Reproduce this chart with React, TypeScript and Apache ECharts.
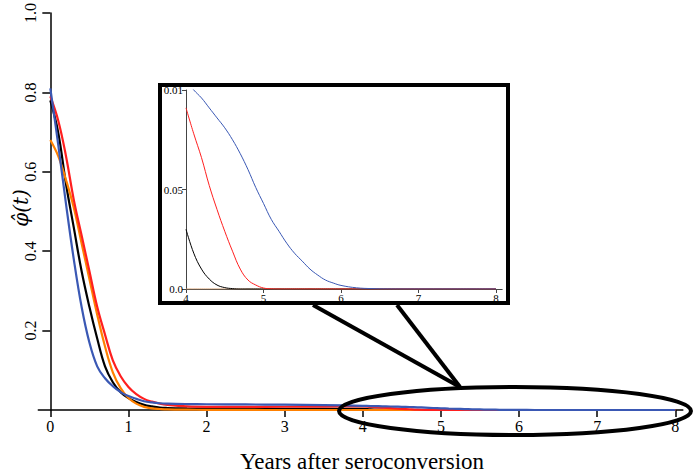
import React, { useEffect, useRef } from "react";
import * as echarts from "echarts";

const years = [
  0, 0.1, 0.2, 0.3, 0.4, 0.5, 0.6, 0.7, 0.8, 0.9, 1.0, 1.1, 1.2, 1.3, 1.4, 1.5,
  1.75, 2, 2.5, 3, 3.5,
  4, 4.1, 4.2, 4.3, 4.4, 4.5, 4.6, 4.7, 4.8, 4.9, 5, 5.1, 5.2, 5.3, 5.4, 5.5, 5.6, 5.7, 5.8, 5.9,
  6, 6.2, 6.4, 6.6, 6.8, 7, 7.5, 8,
];

const blueValues = [
  0.81, 0.67, 0.52, 0.38, 0.26, 0.17, 0.11, 0.08, 0.06, 0.045, 0.035, 0.028, 0.022, 0.019, 0.017, 0.016,
  0.015, 0.0145, 0.014, 0.0135, 0.0125,
  0.0105, 0.01, 0.0096, 0.0091, 0.0086, 0.0081, 0.0075, 0.0068, 0.006, 0.0051, 0.0043, 0.0035, 0.0029, 0.0023, 0.0018, 0.0014, 0.001, 0.0007, 0.00045, 0.0003,
  0.00018, 0.00006, 0.00002, 0.000005, 0, 0, 0, 0,
];

const blackValues = [
  0.78, 0.7, 0.57, 0.46, 0.35, 0.26, 0.18, 0.11, 0.07, 0.045, 0.03, 0.02, 0.013, 0.009, 0.006, 0.005,
  0.004, 0.0035, 0.003, 0.003, 0.003,
  0.003, 0.0018, 0.001, 0.0005, 0.0002, 0.00007, 0.00002, 0, 0, 0, 0, 0, 0, 0, 0, 0, 0, 0, 0, 0,
  0, 0, 0, 0, 0, 0, 0, 0,
];

const orangeValues = [
  0.68, 0.64, 0.58, 0.51, 0.42, 0.33, 0.24, 0.16, 0.095, 0.055, 0.03, 0.016, 0.008, 0.004, 0.0025, 0.0015,
  0.0008, 0.0005, 0.0002, 0, 0,
  0, 0, 0, 0, 0, 0, 0, 0, 0, 0, 0, 0, 0, 0, 0, 0, 0, 0, 0, 0,
  0, 0, 0, 0, 0, 0, 0, 0,
];

const redValues = [
  0.79, 0.73, 0.64, 0.53, 0.44, 0.35, 0.26, 0.19, 0.125, 0.085, 0.058, 0.04, 0.028, 0.021, 0.016, 0.013,
  0.009, 0.008, 0.008, 0.0082, 0.0086,
  0.0091, 0.0078, 0.0066, 0.0052, 0.004, 0.0029, 0.0019, 0.001, 0.00045, 0.0002, 0.00005, 0.00001, 0, 0, 0, 0, 0, 0, 0, 0,
  0, 0, 0, 0, 0, 0, 0, 0,
];

const xTicks = [0, 1, 2, 3, 4, 5, 6, 7, 8];
const yTicks = [0.2, 0.4, 0.6, 0.8, 1.0];
const insetStart = 4;
const insetXTicks = [4, 5, 6, 7, 8];
const insetYTicks = [0, 0.005, 0.01];
const insetYLabels = ["0.0", "0.05", "0.01"];

const xTitle = "Years after seroconversion";
const yTitle = "\u03c6\u0302(t)";

const COLORS = {
  blue: "#3a58b4",
  black: "#000000",
  orange: "#ff8000",
  red: "#ff1f1f",
};

const SERIF = "Liberation Serif, Times New Roman, serif";

function pairs(vals: number[], from = -Infinity) {
  const out: number[][] = [];
  years.forEach((t, i) => {
    if (t >= from) out.push([t, vals[i]]);
  });
  return out;
}

export default function App() {
  const ref = useRef<HTMLDivElement>(null);

  useEffect(() => {
    if (!ref.current) return;
    const chart = echarts.init(ref.current, null, { renderer: "svg" });

    const mainSeries = [
      { name: "black", vals: blackValues, color: COLORS.black },
      { name: "orange", vals: orangeValues, color: COLORS.orange },
      { name: "red", vals: redValues, color: COLORS.red },
      { name: "blue", vals: blueValues, color: COLORS.blue },
    ];

    const series: any[] = [];
    mainSeries.forEach((s) => {
      series.push({
        type: "line",
        name: s.name,
        xAxisIndex: 0,
        yAxisIndex: 0,
        data: pairs(s.vals),
        smooth: 0.4,
        showSymbol: false,
        symbol: "none",
        lineStyle: { color: s.color, width: 2.2 },
        z: 3,
      });
    });
    const insetOrder = [
      { name: "orange", vals: orangeValues, color: "#d29a6a" },
      { name: "black", vals: blackValues, color: COLORS.black },
      { name: "red", vals: redValues, color: COLORS.red },
      { name: "blue", vals: blueValues, color: COLORS.blue },
    ];
    insetOrder.forEach((s) => {
      series.push({
        type: "line",
        name: s.name + " (inset)",
        xAxisIndex: 1,
        yAxisIndex: 1,
        data: pairs(s.vals, insetStart),
        smooth: 0.4,
        showSymbol: false,
        symbol: "none",
        clip: true,
        lineStyle: { color: s.color, width: 1 },
        z: 3,
      });
    });

    const option: any = {
      animation: false,
      backgroundColor: "#ffffff",
      grid: [
        { left: 38.3, top: 11, width: 644.5, height: 399, containLabel: false },
        { left: 186, top: 90, width: 316.2, height: 199, containLabel: false },
      ],
      xAxis: [
        {
          type: "value",
          gridIndex: 0,
          min: -0.154,
          max: 8.096,
          splitLine: { show: false },
          axisLine: { show: true, onZero: false, lineStyle: { color: "#000", width: 1.5 } },
          axisTick: { show: true, customValues: xTicks, length: 7, lineStyle: { color: "#000", width: 1.5 } },
          axisLabel: {
            customValues: xTicks,
            color: "#000",
            fontFamily: SERIF,
            fontSize: 16,
            margin: 8,
            formatter: (v: number) => String(v),
          },
        },
        {
          type: "value",
          gridIndex: 1,
          min: 4,
          max: 8.08,
          splitLine: { show: false },
          axisLine: { show: true, onZero: false, lineStyle: { color: "#444", width: 1 } },
          axisTick: { show: true, customValues: insetXTicks, length: 4, lineStyle: { color: "#444", width: 1 } },
          axisLabel: {
            customValues: insetXTicks,
            color: "#000",
            fontFamily: SERIF,
            fontSize: 11,
            margin: 3,
            formatter: (v: number) => String(v),
          },
        },
      ],
      yAxis: [
        {
          type: "value",
          gridIndex: 0,
          min: 0,
          max: 1,
          splitLine: { show: false },
          axisLine: { show: true, onZero: true, lineStyle: { color: "#000", width: 1.5 } },
          axisTick: { show: true, customValues: yTicks, length: 8, lineStyle: { color: "#000", width: 1.5 } },
          axisLabel: {
            customValues: yTicks,
            rotate: 90,
            color: "#000",
            fontFamily: SERIF,
            fontSize: 16,
            margin: 0,
            formatter: (v: number) => v.toFixed(1),
          },
        },
        {
          type: "value",
          gridIndex: 1,
          min: 0,
          max: 0.01,
          splitLine: { show: false },
          axisLine: { show: true, onZero: false, lineStyle: { color: "#444", width: 1 } },
          axisTick: { show: true, customValues: insetYTicks, length: 4, lineStyle: { color: "#444", width: 1 } },
          axisLabel: {
            customValues: insetYTicks,
            color: "#000",
            fontFamily: SERIF,
            fontSize: 11,
            margin: 3,
            formatter: (v: number) => {
              const i = insetYTicks.findIndex((t) => Math.abs(t - v) < 1e-9);
              return i >= 0 ? insetYLabels[i] : "";
            },
          },
        },
      ],
      graphic: [
        {
          type: "rect",
          z: 100,
          shape: { x: 160, y: 85, width: 348, height: 218 },
          style: { fill: "none", stroke: "#000", lineWidth: 4 },
        },
        {
          type: "line",
          z: 100,
          shape: { x1: 313, y1: 305, x2: 460, y2: 387 },
          style: { stroke: "#000", lineWidth: 4 },
        },
        {
          type: "line",
          z: 100,
          shape: { x1: 397, y1: 305, x2: 460, y2: 387 },
          style: { stroke: "#000", lineWidth: 4 },
        },
        {
          type: "ellipse",
          z: 100,
          shape: { cx: 515, cy: 411, rx: 176, ry: 24 },
          style: { fill: "none", stroke: "#000", lineWidth: 4 },
        },
        {
          type: "text",
          z: 100,
          x: 362,
          y: 461,
          style: {
            text: xTitle,
            font: "23px Liberation Serif",
            fill: "#000",
            textAlign: "center",
            textVerticalAlign: "middle",
          },
        },
        {
          type: "text",
          z: 100,
          x: 21,
          y: 208,
          rotation: Math.PI / 2,
          style: {
            text: yTitle,
            font: "italic 20px DejaVu Serif",
            fill: "#000",
            textAlign: "center",
            textVerticalAlign: "middle",
          },
        },
      ],
      series,
    };

    chart.setOption(option);
    return () => {
      chart.dispose();
    };
  }, []);

  return (
    <div
      ref={ref}
      style={{ position: "absolute", left: 0, top: 0, width: 694, height: 475 }}
    />
  );
}
